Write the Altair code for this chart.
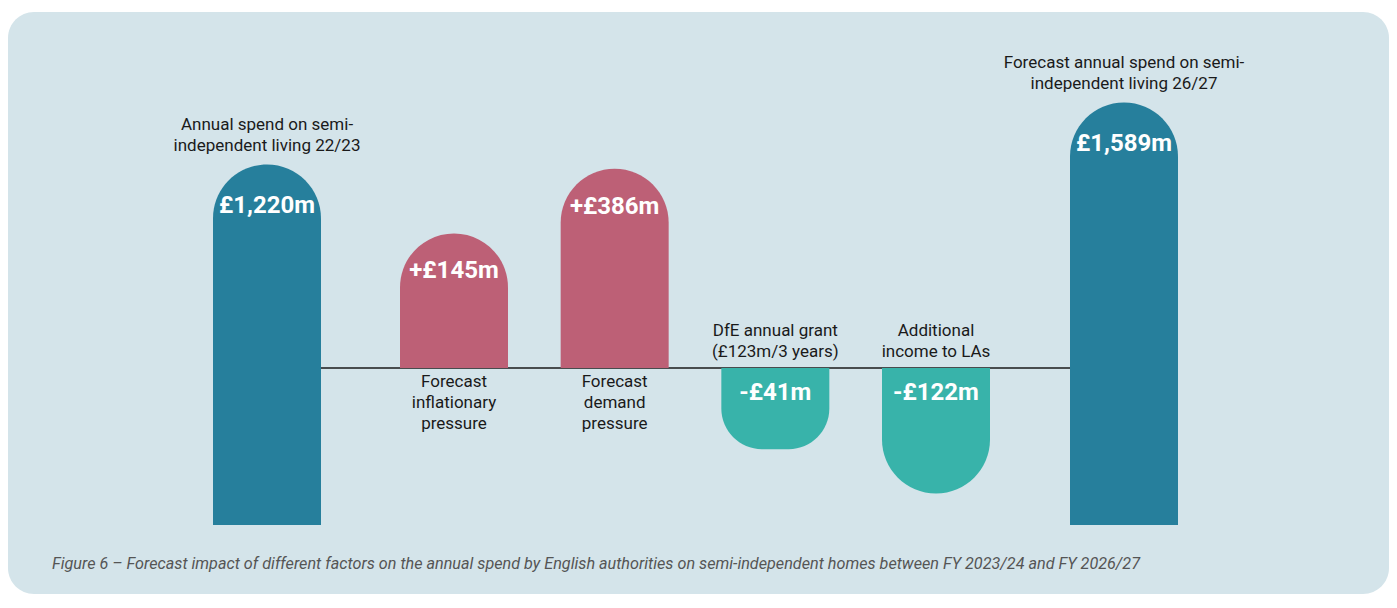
import altair as alt
import pandas as pd

# ---------------- data ----------------
keys = ["start", "inflation", "demand", "grant", "income", "end"]
labels = [
    "Annual spend on semi-\nindependent living 22/23",
    "Forecast\ninflationary\npressure",
    "Forecast\ndemand\npressure",
    "DfE annual grant\n(£123m/3 years)",
    "Additional\nincome to LAs",
    "Forecast annual spend on semi-\nindependent living 26/27",
]
values = [1220, 145, 386, -41, -122, 1589]
kinds = ["total", "increase", "increase", "decrease", "decrease", "total"]
caption = ("Figure 6 – Forecast impact of different factors on the annual spend by English "
           "authorities on semi-independent homes between FY 2023/24 and FY 2026/27")


def fmt(v, kind):
    s = f"£{abs(v):,}m"
    if kind == "increase":
        return "+" + s
    if kind == "decrease":
        return "-" + s
    return s


df = pd.DataFrame({
    "key": keys,
    "label": labels,
    "value": values,
    "kind": kinds,
    "text": [fmt(v, k) for v, k in zip(values, kinds)],
})

total_keys = [k for k, t in zip(keys, kinds) if t == "total"]
delta_keys = [k for k, t in zip(keys, kinds) if t != "total"]

# ---------------- styles ----------------
C_TOT = "#267F9C"
C_INC = "#BD6076"
C_DEC = "#38B3AA"
C_BG = "#D4E4EA"
C_TXT = "#1a1a1a"
FONT = "Roboto"
BAR_W = 108
R = 54

X_TOT = alt.Scale(type="point", domain=total_keys, range=[259, 1116], padding=0)
X_DEL = alt.Scale(type="point", domain=delta_keys, range=[446, 928], padding=0)
Y_TOT = alt.Scale(type="pow", exponent=0.6, domain=[0, 2000], range=[513, 27.9], nice=False, zero=False)
Y_DEL = alt.Scale(type="pow", exponent=0.4, domain=[-100, 400], range=[472.0, 154.0], nice=False, zero=False)

base = alt.Chart(df)


def sel(kind):
    return base.transform_filter(alt.datum.kind == kind)


def xe(scale):
    return alt.X("key:N", scale=scale, axis=None)


def ye(scale, field="value"):
    return alt.Y(f"{field}:Q", scale=scale, axis=None)


rule_df = pd.DataFrame({"a": [total_keys[0]], "b": [total_keys[-1]], "zero": [0]})
rule = alt.Chart(rule_df).mark_rule(color=C_TXT, strokeWidth=1.5).encode(
    x=alt.X("a:N", scale=X_TOT, axis=None), x2="b:N", y=ye(Y_DEL, "zero")
)

tot_bars = sel("total").mark_bar(
    size=BAR_W, color=C_TOT, cornerRadiusTopLeft=R, cornerRadiusTopRight=R
).encode(x=xe(X_TOT), y=ye(Y_TOT), y2=alt.Y2(datum=0))

inc_bars = sel("increase").mark_bar(
    size=BAR_W, color=C_INC, cornerRadiusTopLeft=R, cornerRadiusTopRight=R
).encode(x=xe(X_DEL), y=ye(Y_DEL), y2=alt.Y2(datum=0))

dec_bars = sel("decrease").mark_bar(
    size=BAR_W, color=C_DEC, cornerRadiusBottomLeft=R, cornerRadiusBottomRight=R
).encode(x=xe(X_DEL), y=ye(Y_DEL), y2=alt.Y2(datum=0))

val_style = dict(font=FONT, fontSize=24, fontWeight="bold", color="white", baseline="middle")

tot_val = sel("total").mark_text(dy=42, **val_style).encode(
    x=xe(X_TOT), y=ye(Y_TOT), text="text:N")
inc_val = sel("increase").mark_text(dy=38, **val_style).encode(
    x=xe(X_DEL), y=ye(Y_DEL), text="text:N")
dec_val = sel("decrease").transform_calculate(zero="0").mark_text(dy=25, **val_style).encode(
    x=xe(X_DEL), y=ye(Y_DEL, "zero"), text="text:N")

lab_style = dict(font=FONT, fontSize=17, color=C_TXT, lineBreak="\n", lineHeight=21)

tot_lab = sel("total").mark_text(baseline="bottom", dy=-30, **lab_style).encode(
    x=xe(X_TOT), y=ye(Y_TOT), text="label:N")
inc_lab = sel("increase").transform_calculate(zero="0").mark_text(baseline="top", dy=6, **lab_style).encode(
    x=xe(X_DEL), y=ye(Y_DEL, "zero"), text="label:N")
dec_lab = sel("decrease").transform_calculate(zero="0").mark_text(baseline="bottom", dy=-28, **lab_style).encode(
    x=xe(X_DEL), y=ye(Y_DEL, "zero"), text="label:N")

chart = alt.layer(
    rule, tot_bars, inc_bars, dec_bars, tot_val, inc_val, dec_val, tot_lab, inc_lab, dec_lab
).resolve_scale(
    x="independent", y="independent"
).properties(
    width=1381,
    height=582,
    padding={"top": 4, "left": 0, "right": 0, "bottom": 0},
    autosize=alt.AutoSizeParams(type="none"),
    background="white",
    title=alt.TitleParams(
        text=caption, orient="bottom", anchor="start", frame="group",
        offset=-25, dx=44, baseline="alphabetic",
        font=FONT, fontSize=16.2, fontStyle="italic", fontWeight="normal", color="#555555",
    ),
).configure_view(fill=C_BG, stroke=None, cornerRadius=26)

chart.save("out.html", embed_options={"renderer": "svg", "actions": False})
